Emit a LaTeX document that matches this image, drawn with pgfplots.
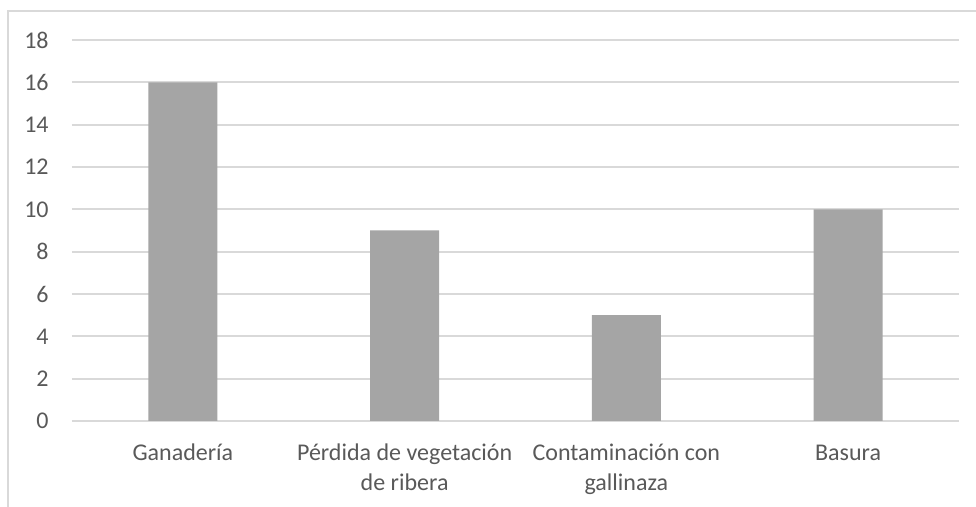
\documentclass[border=0pt]{standalone}
\usepackage{pgfplots}
\pgfplotsset{compat=1.18}
\usepackage{fontspec}
\setmainfont{Carlito}
\definecolor{barc}{HTML}{A5A5A5}
\definecolor{gridc}{HTML}{D9D9D9}
\definecolor{txtc}{HTML}{595959}
\newcommand\st{\rule{0pt}{9pt}}
\begin{document}
\fontsize{12}{15}\selectfont
\begin{tikzpicture}
\useasboundingbox (-36pt,-43pt) rectangle (452pt,210.5pt);
\draw[gridc, line width=0.6pt] (-32pt,-43pt) -- (-32pt,205pt) -- (452pt,205pt);
\begin{axis}[
  at={(0pt,0pt)}, anchor=south west,
  scale only axis, width=443.5pt, height=190.5pt,
  xmin=-0.5, xmax=3.5, ymin=0, ymax=18,
  ytick={0,2,...,18}, xtick={0,1,2,3},
  xticklabels={\st Ganadería, {\st Pérdida de vegetación\\de ribera}, {\st Contaminación con\\gallinaza}, \st Basura},
  axis x line*=bottom, axis y line*=left,
  y axis line style={draw=none},
  x axis line style={gridc, line width=1pt, -},
  major tick length=0pt,
  ymajorgrids, major grid style={gridc, line width=1pt},
  tick label style={text=txtc, font=\fontsize{12}{15}\selectfont},
  /pgf/number format/assume math mode=true,
  yticklabel style={anchor=east, inner sep=0pt, xshift=-11.5pt},
  xticklabel style={anchor=north, align=center, inner sep=0pt, yshift=-10.5pt},
  clip=false,
]
\addplot[ybar, bar width=34.5pt, fill=barc, draw=none] coordinates {(0,16) (1,9) (2,5) (3,10)};
\end{axis}
\end{tikzpicture}
\end{document}
